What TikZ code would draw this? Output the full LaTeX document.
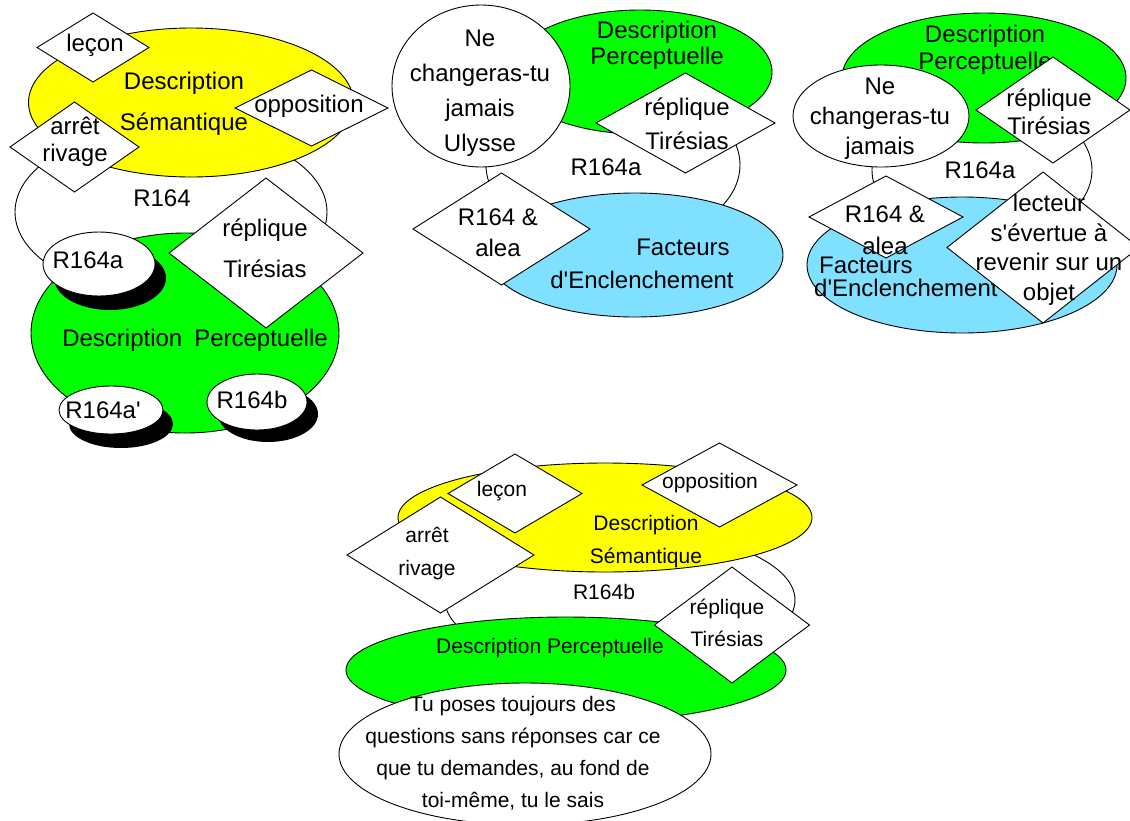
\documentclass[tikz,border=0pt]{standalone}
\usepackage{fontspec}
\setmainfont{Liberation Sans}[Ligatures=TeXOff]
\usetikzlibrary{shapes.geometric}

\definecolor{jaune}{RGB}{255,255,0}
\definecolor{vert}{RGB}{0,255,0}
\definecolor{bleu}{RGB}{128,224,255}

\tikzset{
  oval/.style={ellipse, draw, line width=.9pt, inner sep=0pt, outer sep=0pt},
  rhomb/.style={diamond, draw, fill=white, line width=.9pt, inner sep=0pt, outer sep=0pt},
  shadowoval/.style={ellipse, fill=black, inner sep=0pt, outer sep=0pt},
  txt/.style={inner sep=0pt, align=center, font=\fontsize{24}{#1}\selectfont},
  txt/.default=28,
  stxt/.style={inner sep=0pt, align=center, font=\fontsize{21}{#1}\selectfont},
  stxt/.default=32,
}

\begin{document}
\begin{tikzpicture}[x=1pt,y=-1pt]
\useasboundingbox (0,0) rectangle (1130,820);

% Diagram 1 : R164
\node[oval, fill=white, minimum width=312pt, minimum height=170pt] (rA) at (171,212) {};
\node[oval, fill=jaune, minimum width=325pt, minimum height=149pt] (semA) at (191,102.5) {};
\node[oval, fill=vert, minimum width=308pt, minimum height=200pt] (percA) at (185,333) {};
\node[rhomb, minimum width=112pt, minimum height=69pt] (leconA) at (93,47.5) {};
\node[rhomb, minimum width=153pt, minimum height=76pt] (oppA) at (311.5,108) {};
\node[rhomb, minimum width=129pt, minimum height=90pt] (arretA) at (74.5,147) {};
\node[rhomb, minimum width=194pt, minimum height=150pt] (repA) at (266,253) {};

% shadowed ovals
\node[shadowoval, minimum width=112pt, minimum height=64pt] (raS) at (110,278) {};
\node[oval, fill=white, minimum width=112pt, minimum height=64pt] (ra) at (99,264) {};
\node[shadowoval, minimum width=104pt, minimum height=48pt] (rapS) at (121,424) {};
\node[oval, fill=white, minimum width=104pt, minimum height=48pt] (rap) at (111,410) {};
\node[shadowoval, minimum width=100pt, minimum height=56pt] (rbS) at (268,414) {};
\node[oval, fill=white, minimum width=100pt, minimum height=56pt] (rb) at (257,402) {};

\node[txt] (leconAt) at (95,45) {leçon};
\node[txt=41] (semAt) at (184,104) {Description\\Sémantique};
\node[txt] (oppAt) at (309,106) {opposition};
\node[txt=27] (arretAt) at (75,142) {arrêt\\rivage};
\node[txt] (rAt) at (162,198) {R164};
\node[txt=41] (repAt) at (265,248) {réplique\\Tirésias};
\node[txt] (raT) at (88,260) {R164a};
\node[txt] (percAt) at (195,340) {Description\hspace{12pt}Perceptuelle};
\node[txt] (rapT) at (103,410) {R164a'};
\node[txt] (rbT) at (252,400) {R164b};

% Diagram 2 : R164a
\node[oval, fill=white, minimum width=254pt, minimum height=160pt] (rB) at (613,165) {};
\node[oval, fill=vert, minimum width=264pt, minimum height=124pt] (percB) at (640,72) {};
\node[oval, fill=white, minimum width=178pt, minimum height=162pt] (neB) at (481,86) {};
\node[rhomb, minimum width=179pt, minimum height=100pt] (repB) at (685.5,123) {};
\node[oval, fill=bleu, minimum width=296pt, minimum height=124pt] (factB) at (635,255) {};
\node[rhomb, minimum width=177pt, minimum height=112pt] (aleaB) at (501.5,229) {};

\node[txt=35] (neBt) at (480,93) {Ne\\changeras-tu\\jamais\\Ulysse};
\node[txt=26] (percBt) at (657,45) {Description\\Perceptuelle};
\node[txt=34] (repBt) at (687,124) {réplique\\Tirésias};
\node[txt] (rBt) at (606,167) {R164a};
\node[txt=31] (aleaBt) at (498,233) {R164 \&\\alea};
\node[txt=33] (factBt) at (642,264) {\hspace*{82pt}Facteurs\\d'Enclenchement};

% Diagram 3 : R164a
\node[oval, fill=white, minimum width=220pt, minimum height=144pt] (rC) at (982,170) {};
\node[oval, fill=vert, minimum width=284pt, minimum height=130pt] (percC) at (984,78) {};
\node[txt=27] (percCt) at (985,50) {Description\\Perceptuelle};
\node[oval, fill=white, minimum width=176pt, minimum height=102pt] (neC) at (881,116) {};
\node[rhomb, minimum width=154pt, minimum height=106pt] (repC) at (1053,110) {};
\node[oval, fill=bleu, minimum width=310pt, minimum height=136pt] (factC) at (962,265) {};
\node[rhomb, minimum width=154pt, minimum height=82pt] (aleaC) at (886,217) {};

\node[txt=30] (neCt) at (880,119) {Ne\\changeras-tu\\jamais};
\node[txt=28] (repCt) at (1049,112) {réplique\\Tirésias};
\node[txt] (rCt) at (980,170) {R164a};
\node[txt=32] (aleaCt) at (885,230) {R164 \&\\alea};
\node[txt=23, align=left, anchor=west] (factCt) at (814,277) {\hspace*{5pt}Facteurs\\d'Enclenchement};

\node[rhomb, minimum width=192pt, minimum height=151pt] (lectC) at (1043,247.5) {};
\node[txt=29.5] (lectCt) at (1049,250) {lecteur\\s'évertue à\\revenir sur un\\objet};

% Diagram 4 : R164b
\node[oval, fill=white, minimum width=350pt, minimum height=140pt] (rD) at (620,600) {};
\node[oval, fill=jaune, minimum width=414pt, minimum height=109pt] (semD) at (605,517.5) {};
\node[rhomb, minimum width=134pt, minimum height=79pt] (leconD) at (515,493.5) {};
\node[rhomb, minimum width=155pt, minimum height=84pt] (oppD) at (719.5,485) {};
\node[rhomb, minimum width=187pt, minimum height=116pt] (arretD) at (440.5,555) {};
\node[oval, fill=vert, minimum width=440pt, minimum height=106pt] (percD) at (566,670) {};
\node[rhomb, minimum width=155pt, minimum height=116pt] (repD) at (732,625) {};
\node[oval, fill=white, minimum width=372pt, minimum height=142pt] (tuD) at (525,754) {};

\node[stxt] (leconDt) at (502,491) {leçon};
\node[stxt] (oppDt) at (710,483) {opposition};
\node[stxt=33] (semDt) at (646,542) {Description\\Sémantique};
\node[stxt=33] (arretDt) at (427,554) {arrêt\\rivage};
\node[stxt] (rDt) at (604,592) {R164b};
\node[stxt=32] (repDt) at (727,623) {réplique\\Tirésias};
\node[stxt] (percDt) at (550,648) {Description Perceptuelle};
\node[stxt=32] (tuDt) at (513,753) {Tu poses toujours des\\questions sans réponses car ce\\que tu demandes, au fond de\\toi-même, tu le sais};

\end{tikzpicture}
\end{document}
